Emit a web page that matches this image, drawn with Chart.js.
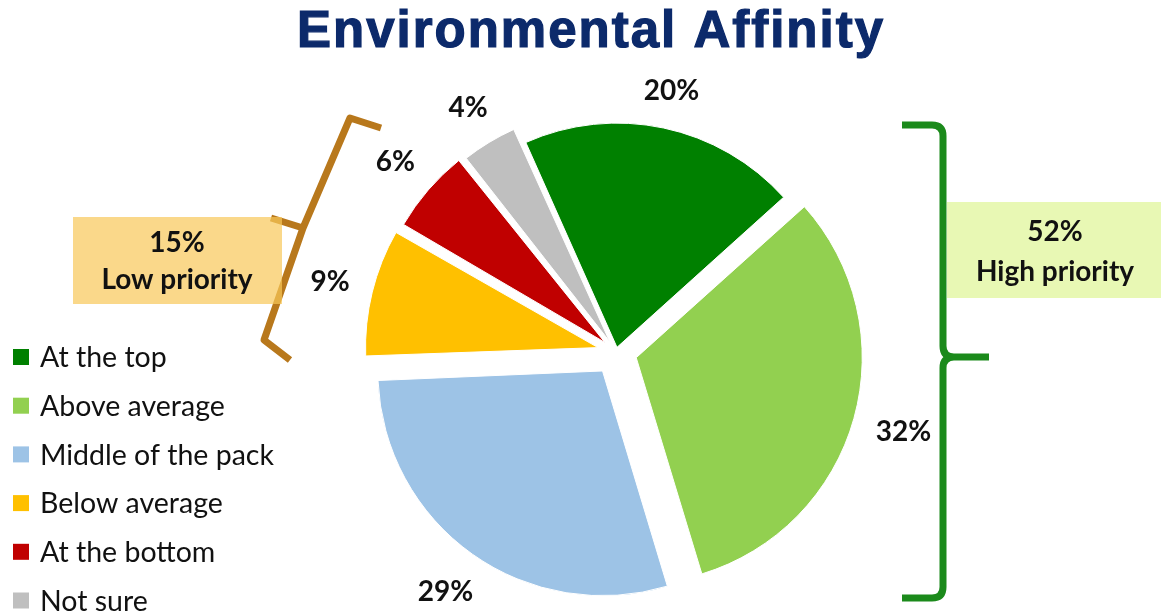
<!DOCTYPE html>
<html>
<head>
<meta charset="utf-8">
<title>Environmental Affinity</title>
<script src="https://cdn.jsdelivr.net/npm/chart.js@4.4.1/dist/chart.umd.min.js"></script>
<style>
  html, body { margin: 0; padding: 0; background: #fff; }
  #wrap { width: 1161px; height: 614px; }
</style>
</head>
<body>
<div id="wrap"><canvas id="affinityChart" width="1161" height="614"></canvas></div>
<script>
// =======================
// data
// =======================
const chartTitle = 'Environmental Affinity';
const categories = ['At the top', 'Above average', 'Middle of the pack', 'Below average', 'At the bottom', 'Not sure'];
const shares = [20, 32, 29, 9, 6, 4];
const highLabel = 'High priority';
const lowLabel = 'Low priority';

// =======================
// styles
// =======================
const sliceColors = ['#008000', '#92d050', '#9dc3e6', '#ffc000', '#c00000', '#bfbfbf'];
const slicePull = [5, 23, 24, 27, 24, 21];   // px each slice is pulled out
const labelGap = 22;

// chart.js moves an arc by offset/4 * (1 + fix), so turn the pull into its offset
const sliceOffsets = shares.map((v, i) => {
  const circ = v / 100 * Math.PI * 2;
  const fix = 1 - Math.sin(Math.min(Math.PI, circ));
  return 4 * slicePull[i] / (1 + fix);
});

const pct = v => v + '%';

// percent labels outside each slice
const sliceLabels = {
  id: 'sliceLabels',
  afterDatasetsDraw(chart) {
    const { ctx } = chart;
    const meta = chart.getDatasetMeta(0);
    ctx.save();
    ctx.font = 'bold 28px Lato';
    ctx.fillStyle = '#111';
    ctx.textAlign = 'center';
    ctx.textBaseline = 'middle';
    meta.data.forEach((arc, i) => {
      const { x, y, startAngle, endAngle, outerRadius } =
        arc.getProps(['x', 'y', 'startAngle', 'endAngle', 'outerRadius'], true);
      const mid = (startAngle + endAngle) / 2;
      const ux = Math.cos(mid);
      const uy = Math.sin(mid);
      const text = pct(shares[i]);
      const w = ctx.measureText(text).width;
      const dist = slicePull[i] + outerRadius + labelGap + Math.abs(ux) * w / 2 + Math.abs(uy) * 10;
      ctx.fillText(text, x + ux * dist, y + uy * dist);
    });
    ctx.restore();
  }
};

// title, legend, braces and the two group boxes
const decorations = {
  id: 'decorations',
  afterDraw(chart) {
    const { ctx } = chart;
    ctx.save();

    // title
    ctx.font = 'bold 51px "Liberation Sans"';
    ctx.letterSpacing = '2px';
    ctx.fillStyle = '#0c2a6b';
    ctx.strokeStyle = '#0c2a6b';
    ctx.lineWidth = 1.2;
    ctx.textAlign = 'center';
    ctx.textBaseline = 'alphabetic';
    ctx.fillText(chartTitle, 591, 47);
    ctx.strokeText(chartTitle, 591, 47);
    ctx.letterSpacing = '0px';

    // legend
    ctx.font = '28.5px Lato';
    ctx.textAlign = 'left';
    ctx.textBaseline = 'middle';
    categories.forEach((name, i) => {
      const y = 357 + i * 48.7;
      ctx.fillStyle = sliceColors[i];
      ctx.fillRect(13, y - 8, 16, 16);
      ctx.fillStyle = '#111';
      ctx.fillText(name, 40, y + 1);
    });

    // green brace (high priority)
    ctx.lineWidth = 7;
    ctx.lineJoin = 'round';
    ctx.strokeStyle = '#1b8a1b';
    ctx.beginPath();
    ctx.moveTo(902, 125);
    ctx.lineTo(932, 125);
    ctx.quadraticCurveTo(943, 125, 943, 136);
    ctx.lineTo(943, 346);
    ctx.quadraticCurveTo(943, 357, 954, 357);
    ctx.lineTo(989, 357);
    ctx.moveTo(954, 357);
    ctx.quadraticCurveTo(943, 357, 943, 368);
    ctx.lineTo(943, 587);
    ctx.quadraticCurveTo(943, 598, 932, 598);
    ctx.lineTo(902, 598);
    ctx.stroke();

    // brown brace (low priority)
    ctx.strokeStyle = '#b8781c';
    ctx.beginPath();
    ctx.moveTo(381, 128);
    ctx.lineTo(350, 118);
    ctx.lineTo(303, 228);
    ctx.lineTo(271, 218);
    ctx.moveTo(303, 228);
    ctx.lineTo(264, 340);
    ctx.lineTo(290, 360);
    ctx.stroke();

    // group boxes
    const high = shares[0] + shares[1];
    const low = shares[3] + shares[4];
    ctx.fillStyle = 'rgba(248, 199, 88, 0.7)';
    ctx.fillRect(73, 217, 209, 87);
    ctx.fillStyle = '#e8f8b4';
    ctx.fillRect(947, 202, 214, 96);

    ctx.font = 'bold 28px Lato';
    ctx.fillStyle = '#111';
    ctx.textAlign = 'center';
    ctx.fillText(pct(low), 177, 243);
    ctx.fillText(lowLabel, 177, 280);
    ctx.fillText(pct(high), 1055, 232);
    ctx.fillText(highLabel, 1055, 272);

    ctx.restore();
  }
};

new Chart(document.getElementById('affinityChart'), {
  type: 'pie',
  data: {
    labels: categories,
    datasets: [{
      data: shares,
      backgroundColor: sliceColors,
      borderColor: '#ffffff',
      borderWidth: 1,
      offset: sliceOffsets,
      hoverOffset: 0
    }]
  },
  options: {
    responsive: false,
    animation: false,
    rotation: -24,
    radius: 224,
    layout: {
      padding: { left: 380, right: 309, top: 110, bottom: 20 }
    },
    plugins: {
      legend: { display: false },
      title: { display: false },
      tooltip: { enabled: false }
    }
  },
  plugins: [sliceLabels, decorations]
});
</script>
</body>
</html>
